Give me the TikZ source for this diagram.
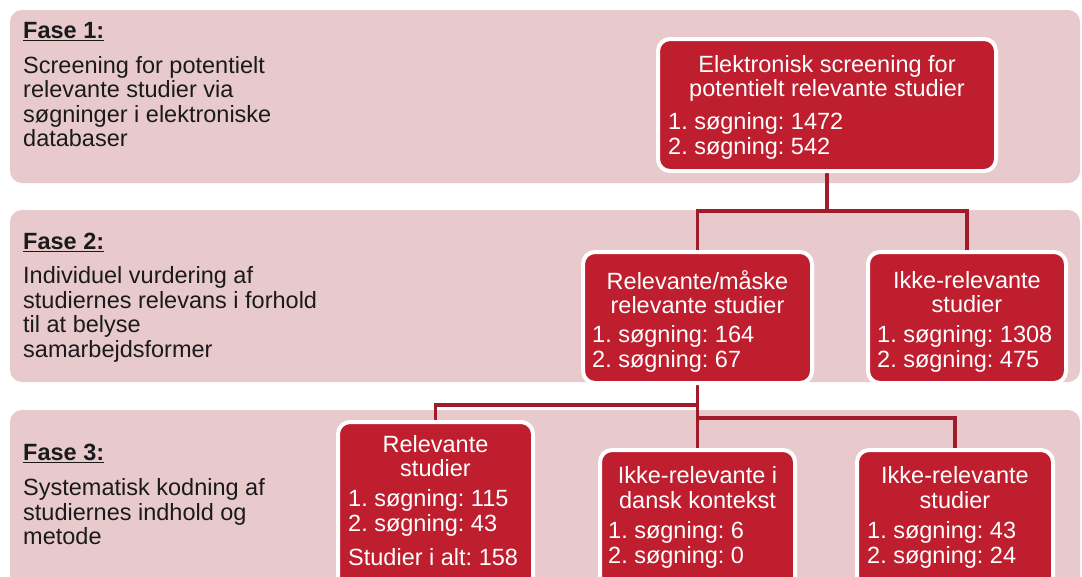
\documentclass[tikz,border=0pt]{standalone}
\usepackage{fontspec}
\setmainfont{Liberation Sans}
\frenchspacing
\pgfdeclarelayer{bg}
\pgfsetlayers{bg,main}
\definecolor{band}{HTML}{E8CACD}
\definecolor{boxred}{HTML}{BE1E2D}
\definecolor{linkred}{HTML}{A01C2B}
\definecolor{ink}{HTML}{1A1A1A}
\begin{document}
\begin{tikzpicture}[x=1pt,y=-1pt,
  stage/.style={fill=band, rounded corners=12pt},
  redbox/.style={draw=white, line width=4pt, fill=boxred, rounded corners=12pt, inner sep=0pt},
  boxtitle/.style={text=white, font=\fontsize{23.5}{24.5}\selectfont\frenchspacing, inner sep=0pt, align=center},
  boxcount/.style={text=white, font=\fontsize{23.5}{24.5}\selectfont\frenchspacing, inner sep=0pt, align=left, anchor=west},
  sidehead/.style={text=ink, font=\fontsize{23.5}{24.5}\selectfont\bfseries, inner sep=0pt, anchor=base west},
  sidetext/.style={text=ink, font=\fontsize{23.5}{24.5}\selectfont, inner sep=0pt, align=left, anchor=west},
  link/.style={draw=linkred, line width=3.5pt}]
\useasboundingbox (0,0) rectangle (1082,576);

\begin{pgfonlayer}{bg}
\fill[stage] (10,10) rectangle (1080,183);
\fill[stage] (10,210) rectangle (1080,382);
\fill[stage] (10,410) rectangle (1080,620);
\end{pgfonlayer}

% phase descriptions
\node[sidehead] (h1) at (23,38.5) {\underline{Fase 1:}};
\node[sidetext] (t1) at (23,101.5) {Screening for potentielt\\relevante studier via\\søgninger i elektroniske\\databaser};
\node[sidehead] (h2) at (23,249.3) {\underline{Fase 2:}};
\node[sidetext] (t2) at (23,314.5) {Individuel vurdering af\\studiernes relevans i forhold\\til at belyse\\samarbejdsformer};
\node[sidehead] (h3) at (23,460.7) {\underline{Fase 3:}};
\node[sidetext] (t3) at (23,512) {Systematisk kodning af\\studiernes indhold og\\metode};

% boxes
\node[redbox, minimum width=338pt, minimum height=132pt] (A) at (827,105) {};
\node[redbox, minimum width=229pt, minimum height=131pt] (B) at (697.5,317.5) {};
\node[redbox, minimum width=198pt, minimum height=131pt] (C) at (967,317.5) {};
\node[redbox, minimum width=195pt, minimum height=178pt] (D) at (435.5,511) {};
\node[redbox, minimum width=195pt, minimum height=150pt] (E) at (697.5,525) {};
\node[redbox, minimum width=196pt, minimum height=150pt] (F) at (955,525) {};

% box texts
\node[boxtitle] (At) at (827,78.5) {Elektronisk screening for\\potentielt relevante studier};
\node[boxcount] (Ac) at (668,136) {1. søgning: 1472\\2. søgning: 542};
\node[boxtitle] (Bt) at (697.5,292) {Relevante/måske\\relevante studier};
\node[boxcount] (Bc) at (592,349) {1. søgning: 164\\2. søgning: 67};
\node[boxtitle] (Ct) at (967,292) {Ikke-relevante\\studier};
\node[boxcount] (Cc) at (877,349) {1. søgning: 1308\\2. søgning: 475};
\node[boxtitle] (Dt) at (435.5,456) {Relevante\\studier};
\node[boxcount] (Dc) at (348,513) {1. søgning: 115\\2. søgning: 43};
\node[boxcount] (Ds) at (348,557) {Studier i alt: 158};
\node[boxtitle] (Et) at (697.5,487.5) {Ikke-relevante i\\dansk kontekst};
\node[boxcount] (Ec) at (608,545) {1. søgning: 6\\2. søgning: 0};
\node[boxtitle] (Ft) at (955,487.5) {Ikke-relevante\\studier};
\node[boxcount] (Fc) at (867,545) {1. søgning: 43\\2. søgning: 24};

% connectors
\coordinate (j1) at (827,211);
\coordinate (j2) at (697.5,405);
\coordinate (j3) at (697.5,418);
\begin{pgfonlayer}{bg}
\draw[link] (A.south) -- (j1);
\draw[link] (B.north) |- (j1) -| (C.north);
\draw[link] (B.south) -- (E.north);
\draw[link] (D.north) |- (j2);
\draw[link] (j3) -| (F.north);
\end{pgfonlayer}
\end{tikzpicture}
\end{document}
